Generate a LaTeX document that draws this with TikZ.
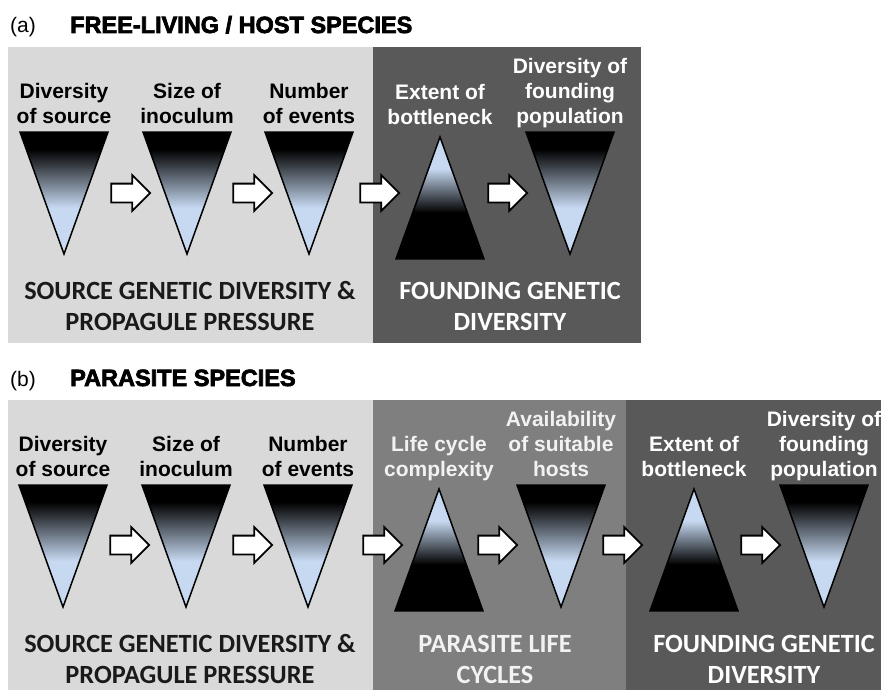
\documentclass[tikz,border=0pt]{standalone}
\usepackage{fontspec}
\setmainfont{Liberation Sans}
\newfontfamily\capsfont{Carlito}
\newfontfamily\headfont[FakeBold=3]{Liberation Sans Bold}
\usetikzlibrary{positioning,shapes.geometric,shapes.arrows,calc}
\definecolor{panellight}{HTML}{D9D9D9}
\definecolor{panelmid}{HTML}{7F7F7F}
\definecolor{paneldark}{HTML}{595959}
\definecolor{triblue}{HTML}{C6D9F1}
\definecolor{midtext}{HTML}{F2F2F2}
\definecolor{captext}{HTML}{1A1A1A}
\pgfdeclareverticalshading{fadedown}{100bp}{color(0bp)=(triblue); color(44bp)=(triblue); color(68bp)=(black); color(100bp)=(black)}
\pgfdeclareverticalshading{fadeup}{100bp}{color(0bp)=(black); color(44bp)=(black); color(62bp)=(triblue); color(100bp)=(triblue)}
\tikzset{
  tribase/.style={isosceles triangle, isosceles triangle stretches, minimum width=88pt, minimum height=122pt, inner sep=0pt, draw=black, line width=1.5pt, anchor=apex, shade},
  tridown/.style={tribase, shape border rotate=-90, shading=fadedown},
  triup/.style={tribase, shape border rotate=90, shading=fadeup},
  lbl/.style={font=\bfseries\fontsize{21}{25}\selectfont, align=center, inner sep=0pt, text depth=5pt},
  blockarrow/.style={single arrow, draw=black, fill=white, line width=1.8pt, minimum height=39pt, inner xsep=0pt, inner ysep=8.5pt, single arrow head extend=8.5pt},
  bigcap/.style={font=\capsfont\bfseries\fontsize{26.3}{31}\selectfont, align=center, inner sep=0pt, anchor=base},
  tag/.style={font=\fontsize{21}{25}\selectfont, anchor=base west, inner sep=0pt},
  heading/.style={font=\headfont\fontsize{23.5}{28}\selectfont, anchor=base west, inner sep=0pt}
}
\begin{document}
\begin{tikzpicture}[x=1pt,y=-1pt]
  \useasboundingbox (0,0) rectangle (881,690);
  \clip (0,0) rectangle (881,690);

  % (a) free-living / host species
  \node[tag] (tagA) at (10,33) {(a)};
  \node[heading] (headA) at (70,33) {FREE-LIVING / HOST SPECIES};
  \fill[panellight] (8,47) rectangle (373,343);
  \fill[paneldark] (373,47) rectangle (641,343);

  \node[tridown] (srcA) at (64,256) {};
  \node[tridown] (sizeA) at (187,256) {};
  \node[tridown] (eventsA) at (309,256) {};
  \node[triup] (neckA) at (440,135) {};
  \node[tridown] (foundA) at (570,256) {};

  \node[lbl, above=3pt of srcA] (srcAl) {Diversity\\of source};
  \node[lbl, above=3pt of sizeA] (sizeAl) {Size of\\inoculum};
  \node[lbl, above=3pt of eventsA] (eventsAl) {Number\\of events};
  \node[lbl, white, above=5pt of neckA] (neckAl) {Extent of\\bottleneck};
  \node[lbl, white, above=3pt of foundA] (foundAl) {Diversity of\\founding\\population};

  \node[blockarrow] (arrA1) at (126,193) {};
  \node[blockarrow] (arrA2) at (248,193) {};
  \node[blockarrow] (arrA3) at (375,193) {};
  \node[blockarrow] (arrA4) at (503,193) {};

  \node[bigcap, captext] (pressA) at (190,330) {SOURCE GENETIC DIVERSITY \&\\PROPAGULE PRESSURE};
  \node[bigcap, white] (foundgA) at (510,330) {FOUNDING GENETIC\\DIVERSITY};

  % (b) parasite species
  \node[tag] (tagB) at (10,386) {(b)};
  \node[heading] (headB) at (70,386) {PARASITE SPECIES};
  \fill[panellight] (8,400) rectangle (373,700);
  \fill[panelmid] (373,400) rectangle (626,700);
  \fill[paneldark] (626,400) rectangle (890,700);

  \node[tridown] (srcB) at (63,609) {};
  \node[tridown] (sizeB) at (186,609) {};
  \node[tridown] (eventsB) at (308,609) {};
  \node[triup] (cycleB) at (439,487) {};
  \node[tridown] (hostsB) at (561,609) {};
  \node[triup] (neckB) at (694,487) {};
  \node[tridown] (foundB) at (824,609) {};

  \node[lbl, above=3pt of srcB] (srcBl) {Diversity\\of source};
  \node[lbl, above=3pt of sizeB] (sizeBl) {Size of\\inoculum};
  \node[lbl, above=3pt of eventsB] (eventsBl) {Number\\of events};
  \node[lbl, midtext, above=5pt of cycleB] (cycleBl) {Life cycle\\complexity};
  \node[lbl, midtext, above=3pt of hostsB] (hostsBl) {Availability\\of suitable\\hosts};
  \node[lbl, white, above=5pt of neckB] (neckBl) {Extent of\\bottleneck};
  \node[lbl, white, above=3pt of foundB] (foundBl) {Diversity of\\founding\\population};

  \node[blockarrow] (arrB1) at (125,545) {};
  \node[blockarrow] (arrB2) at (248,545) {};
  \node[blockarrow] (arrB3) at (378,545) {};
  \node[blockarrow] (arrB4) at (493,545) {};
  \node[blockarrow] (arrB5) at (618,545) {};
  \node[blockarrow] (arrB6) at (756,545) {};

  \node[bigcap, captext] (pressB) at (190,683) {SOURCE GENETIC DIVERSITY \&\\PROPAGULE PRESSURE};
  \node[bigcap, midtext] (cycgB) at (495,683) {PARASITE LIFE\\CYCLES};
  \node[bigcap, white] (foundgB) at (764,683) {FOUNDING GENETIC\\DIVERSITY};
\end{tikzpicture}
\end{document}
